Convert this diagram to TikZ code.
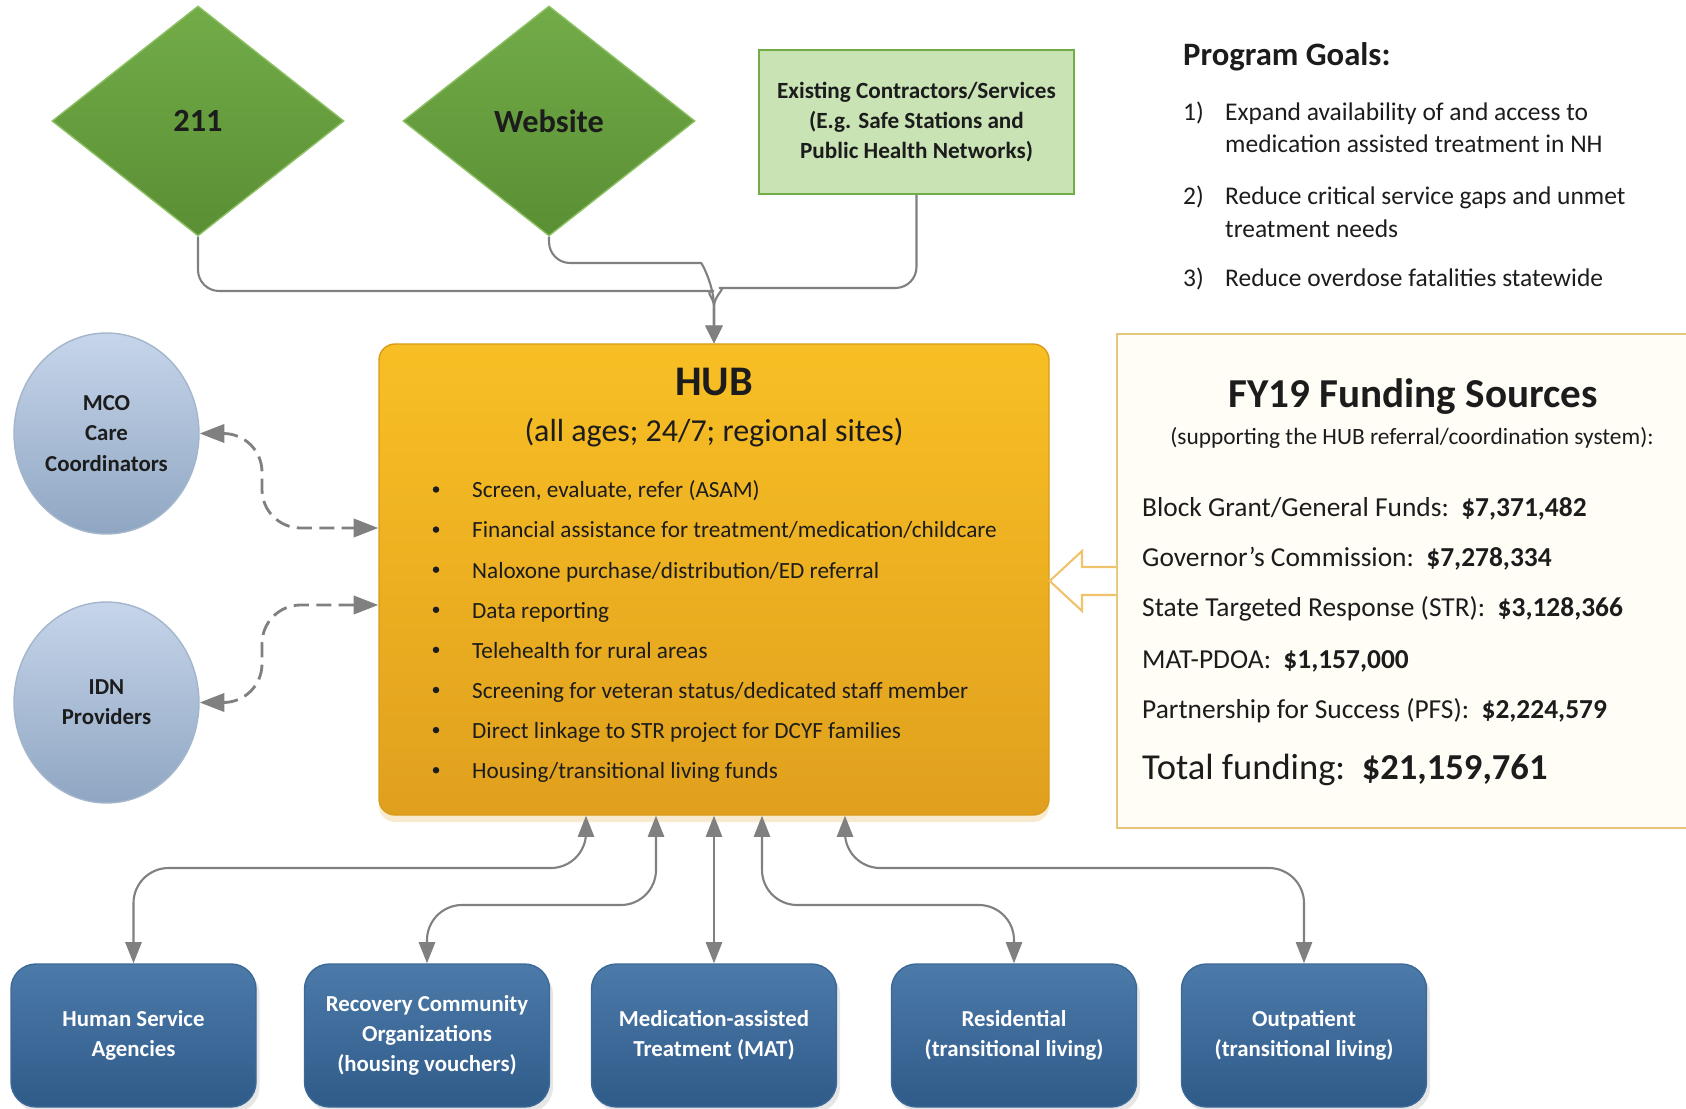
\documentclass[tikz,border=0pt]{standalone}
\usepackage{fontspec}
\setmainfont{Carlito}
\usetikzlibrary{arrows.meta,positioning,shapes.geometric,shadows}

\definecolor{leaftop}{HTML}{72AC48}
\definecolor{leafbot}{HTML}{5A8F34}
\definecolor{leafedge}{HTML}{8CC063}
\definecolor{mintfill}{HTML}{C9E3B5}
\definecolor{mintedge}{HTML}{70AD47}
\definecolor{hubtop}{HTML}{F8BF24}
\definecolor{hubbot}{HTML}{E0A01E}
\definecolor{hubedge}{HTML}{D99B1A}
\definecolor{mistop}{HTML}{C6D5EA}
\definecolor{misbot}{HTML}{8FA6C2}
\definecolor{misedge}{HTML}{A4B6CC}
\definecolor{navytop}{HTML}{4C7AA9}
\definecolor{navybot}{HTML}{2F5B89}
\definecolor{navyedge}{HTML}{3C6997}
\definecolor{wire}{HTML}{808080}
\definecolor{creamedge}{HTML}{E6C77A}
\definecolor{creamfill}{HTML}{FFFDF6}
\definecolor{goldedge}{HTML}{F0C26C}
\definecolor{inkgray}{HTML}{1C1C1C}

\begin{document}
\begin{tikzpicture}[
    >={Triangle[length=6pt,width=4.6pt]},
    every node/.style={inner sep=1pt, text=inkgray},
    gate/.style={diamond, draw=leafedge, top color=leaftop, bottom color=leafbot,
                 minimum width=2.92cm, minimum height=2.30cm, inner sep=0pt,
                 font=\fontsize{9.2}{11}\selectfont\bfseries},
    feeder/.style={rectangle, draw=mintedge, fill=mintfill, minimum width=3.15cm,
                   minimum height=1.44cm, align=center,
                   font=\fontsize{6.6}{8.6}\selectfont\bfseries},
    partner/.style={ellipse, draw=misedge, top color=mistop, bottom color=misbot,
                    minimum width=1.85cm, minimum height=2.01cm, align=center,
                    font=\fontsize{6.5}{8.6}\selectfont\bfseries},
    hubbox/.style={rectangle, rounded corners=0.16cm, draw=hubedge,
                   top color=hubtop, bottom color=hubbot,
                   minimum width=6.70cm, minimum height=4.71cm,
                   drop shadow={opacity=0.22, shadow xshift=0pt, shadow yshift=-2pt, fill=hubbot}},
    service/.style={rectangle, rounded corners=0.25cm, draw=navyedge,
                    top color=navytop, bottom color=navybot,
                    minimum width=2.45cm, minimum height=1.43cm, align=center,
                    text=white, font=\fontsize{6.5}{8.5}\selectfont\bfseries,
                    drop shadow={opacity=0.2, shadow xshift=1pt, shadow yshift=-1.5pt}},
    dot/.style={circle, fill=inkgray, inner sep=0pt, minimum size=0.065cm},
    item/.style={anchor=mid west, font=\fontsize{6.6}{8}\selectfont},
    goal/.style={anchor=mid west, font=\fontsize{7.25}{8.5}\selectfont},
    fundline/.style={anchor=mid west, font=\fontsize{7.8}{9}\selectfont},
    fundbox/.style={rectangle, draw=creamedge, fill=creamfill, line width=0.6pt,
                    minimum width=6.2cm, minimum height=4.94cm, anchor=north west},
    wire/.style={draw=wire, color=wire, line width=0.6pt, rounded corners=6pt},
    dashwire/.style={color=wire, line width=0.8pt, dash pattern=on 4.3pt off 2.1pt,
                     rounded corners=11pt,
                     {Triangle[length=7pt,width=5.2pt]}-{Triangle[length=7pt,width=5.2pt]}}
]
\useasboundingbox (0,0) rectangle (16.86,-11.09);

% entry points
\node[gate] (d211) at (1.98,-1.21) {211};
\node[gate] (web) at (5.49,-1.21) {Website};
\node[feeder] (feed) at (9.165,-1.22) {Existing Contractors/Services\\(E.g. Safe Stations and\\Public Health Networks)};

% the hub
\node[hubbox] (hub) at (7.14,-5.795) {};
\node[font=\fontsize{12}{14}\selectfont\bfseries] (hubtitle) at (7.14,-3.82) {HUB};
\node[font=\fontsize{9.1}{11}\selectfont] (hubsub) at (7.14,-4.33) {(all ages; 24/7; regional sites)};

\foreach \txt [count=\i] in {{Screen, evaluate, refer (ASAM)},
    Financial assistance for treatment/medication/childcare,
    Naloxone purchase/distribution/ED referral,
    Data reporting,
    Telehealth for rural areas,
    Screening for veteran status/dedicated staff member,
    Direct linkage to STR project for DCYF families,
    Housing/transitional living funds} {
  \node[dot] (dot\i) at (4.36,{-4.895-0.401*(\i-1)}) {};
  \node[item] (item\i) at (4.68,{-4.895-0.401*(\i-1)}) {\txt};
}

% partners on the left
\node[partner] (mco) at (1.065,-4.335) {MCO\\Care\\Coordinators};
\node[partner] (idn) at (1.065,-7.025) {IDN\\Providers};

\draw[dashwire] (mco.east) -| (2.62,-5.28) -- (hub.west |- 0,-5.28);
\draw[dashwire] (idn.east) -| (2.62,-6.05) -- (hub.west |- 0,-6.05);

% feeds into the hub
\coordinate (merge) at (7.14,-3.07);
\draw[wire,->,>={Triangle[length=5pt,width=4.8pt]}] (d211.south) |- (6.93,-2.91) [sharp corners] to[out=0,in=90] (merge) -- (hub.north);
\draw[wire,->,>={Triangle[length=5pt,width=4.8pt]}] (web.south) |- (6.80,-2.63) [sharp corners] to[out=0,in=90] (merge) -- (hub.north);
\draw[wire,->,>={Triangle[length=5pt,width=4.8pt]}] (feed.south) |- (7.40,-2.88) [sharp corners] to[out=180,in=90] (merge) -- (hub.north);

% program goals
\node[anchor=mid west, font=\fontsize{9.3}{11}\selectfont\bfseries] (goalhead) at (11.79,-0.57) {Program Goals:};
\node[goal] (g1n) at (11.79,-1.12) {1)};
\node[goal] (g1a) at (12.21,-1.12) {Expand availability of and access to};
\node[goal] (g1b) at (12.21,-1.44) {medication assisted treatment in NH};
\node[goal] (g2n) at (11.79,-1.96) {2)};
\node[goal] (g2a) at (12.21,-1.96) {Reduce critical service gaps and unmet};
\node[goal] (g2b) at (12.21,-2.29) {treatment needs};
\node[goal] (g3n) at (11.79,-2.78) {3)};
\node[goal] (g3a) at (12.21,-2.78) {Reduce overdose fatalities statewide};

% funding sources
\node[fundbox] (fund) at (11.16,-3.33) {};
\draw[draw=goldedge, fill=white, line width=0.6pt]
    (fund.west |- 0,-5.67) -- (10.82,-5.67) -- (10.82,-5.51) -- (hub.east |- 0,-5.81)
    -- (10.82,-6.11) -- (10.82,-5.95) -- (fund.west |- 0,-5.95);

\node[font=\fontsize{11.7}{13}\selectfont\bfseries] (fundhead) at (14.13,-3.97) {FY19 Funding Sources};
\node[font=\fontsize{6.65}{8}\selectfont] (fundsub) at (14.12,-4.38) {(supporting the HUB referral/coordination system):};
\node[fundline] (f1) at (11.38,-5.08) {Block Grant/General Funds:\ \ \textbf{\$7,371,482}};
\node[fundline] (f2) at (11.38,-5.58) {Governor’s Commission:\ \ \textbf{\$7,278,334}};
\node[fundline] (f3) at (11.38,-6.08) {State Targeted Response (STR):\ \ \textbf{\$3,128,366}};
\node[fundline] (f4) at (11.38,-6.60) {MAT-PDOA:\ \ \textbf{\$1,157,000}};
\node[fundline] (f5) at (11.38,-7.10) {Partnership for Success (PFS):\ \ \textbf{\$2,224,579}};
\node[anchor=mid west, font=\fontsize{10.4}{12}\selectfont] (ftotal) at (11.38,-7.71) {Total funding:\ \ \textbf{\$21,159,761}};

% services below
\node[service] (hsa) at (1.335,-10.355) {Human Service\\Agencies};
\node[service] (rco) at (4.27,-10.355) {Recovery Community\\Organizations\\(housing vouchers)};
\node[service] (mat) at (7.14,-10.355) {Medication-assisted\\Treatment (MAT)};
\node[service] (res) at (10.14,-10.355) {Residential\\(transitional living)};
\node[service] (outp) at (13.04,-10.355) {Outpatient\\(transitional living)};

\coordinate (lvlA) at (0,-8.68);
\coordinate (lvlB) at (0,-9.05);
\draw[wire,<->,rounded corners=10pt] ([xshift=-1.28cm]hub.south) |- (hsa.north |- lvlA) -- (hsa.north);
\draw[wire,<->,rounded corners=10pt] ([xshift=-0.58cm]hub.south) |- (rco.north |- lvlB) -- (rco.north);
\draw[wire,<->] (hub.south) -- (mat.north);
\draw[wire,<->,rounded corners=10pt] ([xshift=0.48cm]hub.south) |- (res.north |- lvlB) -- (res.north);
\draw[wire,<->,rounded corners=10pt] ([xshift=1.31cm]hub.south) |- (outp.north |- lvlA) -- (outp.north);

\end{tikzpicture}
\end{document}
